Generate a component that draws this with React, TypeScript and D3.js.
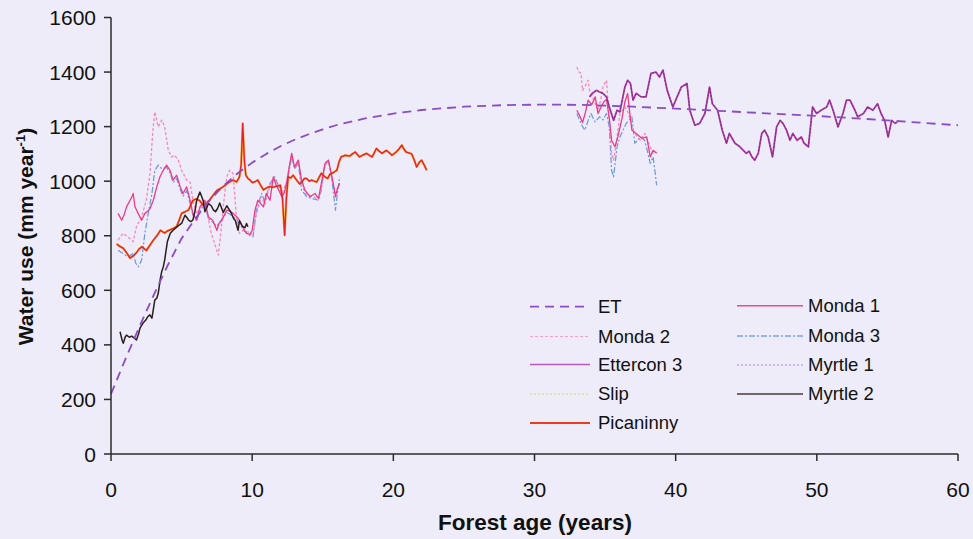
import React from "react";
import * as d3 from "d3";

type Pt = [number, number];

// Axis ticks
const xTicks = [0, 10, 20, 30, 40, 50, 60];
const yTicks = [0, 200, 400, 600, 800, 1000, 1200, 1400, 1600];

// Modelled ET curve (forest age, mm/year)
const etModel: Pt[] = [
  [0, 220], [1, 345], [2, 465], [3, 580], [4, 690], [5, 790], [6, 865], [7, 930],
  [8, 985], [9, 1030], [10, 1068], [11, 1100], [12, 1128], [13, 1152], [14, 1172],
  [15, 1190], [16, 1206], [18, 1230], [20, 1248], [22, 1261], [25, 1273], [28, 1279],
  [31, 1281], [34, 1279], [37, 1273], [40, 1266], [43, 1258], [46, 1250], [49, 1242],
  [52, 1233], [55, 1223], [58, 1212], [60, 1205],
];

const picaninny: Pt[] = [
  [0.4, 770], [0.6, 762], [0.85, 755], [1.1, 738], [1.35, 718], [1.6, 728], [1.8, 738],
  [2.0, 752], [2.2, 760], [2.5, 746], [2.75, 765], [3.0, 784], [3.25, 800], [3.5, 820],
  [3.8, 810], [4.0, 818], [4.2, 822], [4.45, 828], [4.65, 834], [4.85, 860], [5.0, 882],
  [5.25, 888], [5.5, 895], [5.8, 930], [6.05, 935], [6.3, 928], [6.5, 912], [6.65, 905],
  [6.85, 925], [7.0, 932], [7.25, 950], [7.5, 966], [7.7, 972], [7.9, 978], [8.15, 988],
  [8.4, 997], [8.65, 1004], [8.9, 997], [9.1, 1016], [9.22, 1060], [9.33, 1212],
  [9.45, 1075], [9.55, 1022], [9.7, 1010], [9.85, 1004], [10.0, 995], [10.2, 998],
  [10.4, 1004], [10.6, 985], [10.8, 968], [11.0, 975], [11.2, 980], [11.5, 978],
  [11.75, 982], [12.0, 985], [12.15, 935], [12.3, 802], [12.42, 935], [12.55, 1016],
  [12.75, 1012], [12.9, 1022], [13.15, 1004], [13.35, 990], [13.5, 995], [13.7, 1010],
  [13.86, 1010], [14.05, 1000], [14.2, 1004], [14.4, 1000], [14.57, 997], [14.75, 1015],
  [14.9, 1029], [15.15, 1016], [15.35, 1010], [15.5, 1025], [15.7, 1030], [16.0, 1040],
  [16.15, 1070], [16.3, 1089], [16.6, 1095], [16.9, 1092], [17.1, 1100], [17.3, 1107],
  [17.6, 1089], [17.85, 1096], [18.1, 1102], [18.3, 1095], [18.5, 1089], [18.8, 1120],
  [19.0, 1110], [19.2, 1102], [19.5, 1113], [19.7, 1105], [19.9, 1095], [20.2, 1107],
  [20.4, 1118], [20.6, 1132], [20.75, 1118], [20.9, 1107], [21.1, 1104], [21.3, 1100],
  [21.5, 1075], [21.65, 1052], [21.85, 1070], [22.0, 1077], [22.2, 1058], [22.36, 1040],
];

const myrtle2: Pt[] = [
  [0.64, 448], [0.8, 415], [0.87, 406], [1.0, 428], [1.1, 436], [1.3, 428], [1.47, 432],
  [1.65, 425], [1.8, 418], [1.95, 440], [2.05, 461], [2.27, 480], [2.45, 490], [2.6, 503],
  [2.75, 510], [2.9, 498], [3.0, 530], [3.1, 564], [3.25, 572], [3.35, 590], [3.5, 645],
  [3.6, 670], [3.7, 685], [3.8, 711], [4.0, 780], [4.2, 809], [4.4, 820], [4.65, 831],
  [4.8, 838], [5.0, 845], [5.24, 875], [5.4, 865], [5.5, 857], [5.65, 852], [5.8, 857],
  [5.95, 890], [6.07, 930], [6.3, 960], [6.45, 940], [6.55, 925], [6.65, 888], [6.8, 905],
  [6.9, 918], [7.1, 910], [7.25, 895], [7.4, 888], [7.55, 900], [7.7, 920], [7.95, 885],
  [8.2, 910], [8.4, 894], [8.55, 880], [8.7, 862], [8.8, 857], [9.0, 820], [9.1, 855],
  [9.25, 840], [9.35, 833], [9.5, 830], [9.6, 845], [9.7, 833],
];

const monda1Early: Pt[] = [
  [0.5, 882], [0.76, 857], [0.95, 880], [1.1, 906], [1.35, 930], [1.5, 945], [1.57, 955],
  [1.7, 906], [1.92, 882], [2.17, 857], [2.4, 882], [2.6, 890], [2.76, 900], [3.0, 930],
  [3.24, 979], [3.47, 1016], [3.7, 1040], [3.94, 1059], [4.18, 1040], [4.4, 1004],
  [4.65, 1022], [4.9, 979], [5.1, 955], [5.36, 979], [5.6, 930], [5.8, 882], [6.07, 857],
  [6.3, 906], [6.65, 930], [6.9, 869], [7.2, 857], [7.5, 820], [7.65, 845], [7.85, 857],
  [8.2, 894], [8.45, 890], [8.65, 882], [8.9, 870], [9.1, 857], [9.35, 830], [9.6, 809],
  [9.85, 805], [10.0, 820], [10.2, 894], [10.4, 930], [10.6, 918], [10.8, 906], [11.0, 955],
  [11.26, 930], [11.5, 1016], [11.7, 985], [11.9, 965], [12.1, 943], [12.3, 960],
  [12.5, 1010], [12.65, 1060], [12.8, 1102], [13.0, 1052], [13.27, 1077], [13.5, 1004],
  [13.74, 967], [14.1, 943], [14.45, 955], [14.7, 937], [14.9, 992], [15.16, 1065],
  [15.4, 1077], [15.6, 1029], [15.75, 990], [15.9, 943], [16.05, 975], [16.2, 992],
];

const monda1Late: Pt[] = [
  [33.0, 1260], [33.2, 1240], [33.4, 1215], [33.6, 1250], [33.8, 1297], [34.05, 1280],
  [34.3, 1309], [34.5, 1248], [34.7, 1270], [34.9, 1290], [35.1, 1300], [35.3, 1230],
  [35.46, 1150], [35.7, 1126], [35.9, 1162], [36.2, 1230], [36.4, 1290], [36.6, 1322],
  [36.75, 1250], [36.9, 1187], [37.2, 1175], [37.6, 1157], [37.95, 1162], [38.2, 1089],
  [38.4, 1113], [38.65, 1102],
];

const monda2Early: Pt[] = [
  [0.5, 784], [0.85, 809], [1.2, 796], [1.57, 778], [1.8, 833], [2.17, 869], [2.5, 930],
  [2.76, 1028], [2.95, 1175], [3.1, 1254], [3.35, 1199], [3.6, 1224], [3.8, 1199],
  [4.06, 1113], [4.3, 1089], [4.5, 1095], [4.77, 1077], [5.0, 1040], [5.36, 1004],
  [5.6, 997], [5.8, 930], [6.07, 880], [6.3, 900], [6.65, 920], [6.9, 860], [7.1, 809],
  [7.35, 770], [7.6, 729], [7.8, 820], [7.95, 906], [8.2, 1016], [8.4, 1040], [8.65, 1028],
  [8.9, 857], [9.1, 809], [9.35, 820], [9.6, 815], [9.85, 812], [10.06, 805], [10.3, 880],
  [10.67, 945], [10.9, 915], [11.26, 985], [11.6, 1008], [11.8, 985], [12.1, 955],
  [12.4, 990], [12.8, 1095], [13.0, 1050], [13.27, 1070], [13.5, 985], [13.86, 950],
  [14.2, 945], [14.7, 935], [14.9, 975], [15.16, 1060], [15.4, 1070], [15.6, 1020],
  [15.9, 955], [16.2, 990],
];

const monda2Late: Pt[] = [
  [33.0, 1419], [33.15, 1400], [33.3, 1395], [33.4, 1333], [33.6, 1350], [33.8, 1370],
  [33.9, 1333], [34.2, 1297], [34.5, 1260], [34.7, 1300], [34.85, 1345], [35.1, 1370],
  [35.3, 1223], [35.46, 1102], [35.6, 1077], [35.85, 1162], [36.05, 1248], [36.4, 1272],
  [36.65, 1250], [36.9, 1199], [37.1, 1175], [37.5, 1150], [37.8, 1175], [38.0, 1150],
  [38.2, 1126], [38.4, 1102], [38.65, 1107],
];

const monda3Early: Pt[] = [
  [0.5, 747], [0.85, 735], [1.2, 723], [1.57, 735], [1.75, 700], [1.93, 686], [2.17, 711],
  [2.4, 809], [2.64, 882], [2.9, 955], [3.1, 1040], [3.35, 1059], [3.6, 1045], [3.94, 1050],
  [4.18, 1030], [4.4, 995], [4.65, 1010], [4.9, 970], [5.1, 945], [5.36, 965], [5.6, 920],
  [5.8, 875], [6.07, 855], [6.3, 890], [6.65, 915], [6.9, 862], [7.2, 850], [7.5, 835],
  [7.85, 860], [8.2, 885], [8.45, 878], [8.65, 870], [8.9, 860], [9.1, 845], [9.35, 825],
  [9.6, 809], [9.85, 800], [10.06, 796], [10.3, 894], [10.67, 955], [10.9, 924],
  [11.26, 992], [11.6, 1016], [11.8, 992], [12.0, 970], [12.2, 950], [12.5, 1000],
  [12.8, 1095], [13.0, 1045], [13.27, 1065], [13.5, 967], [13.86, 943], [14.2, 937],
  [14.7, 930], [14.9, 967], [15.16, 1065], [15.4, 1077], [15.6, 1029], [15.75, 960],
  [15.9, 894], [16.05, 960], [16.2, 1016],
];

const monda3Late: Pt[] = [
  [33.0, 1248], [33.2, 1223], [33.4, 1200], [33.57, 1187], [33.8, 1223], [34.0, 1248],
  [34.3, 1217], [34.6, 1236], [34.85, 1225], [35.1, 1248], [35.3, 1199], [35.46, 1040],
  [35.6, 1016], [35.85, 1126], [36.05, 1162], [36.3, 1190], [36.5, 1212], [36.9, 1236],
  [37.1, 1139], [37.5, 1162], [37.8, 1150], [38.0, 1110], [38.2, 1065], [38.4, 1089],
  [38.55, 1030], [38.65, 985],
];

const ettercon3: Pt[] = [
  [33.9, 1309], [34.1, 1322], [34.4, 1333], [34.6, 1327], [34.85, 1322], [35.1, 1309],
  [35.3, 1272], [35.6, 1223], [35.85, 1260], [36.05, 1254], [36.4, 1345], [36.6, 1370],
  [36.8, 1358], [36.98, 1297], [37.2, 1322], [37.55, 1309], [37.9, 1309], [38.25, 1395],
  [38.6, 1400], [38.85, 1382], [39.1, 1407], [39.4, 1333], [39.8, 1272], [40.1, 1309],
  [40.4, 1345], [40.8, 1358], [41.0, 1260], [41.36, 1205], [41.7, 1212], [42.07, 1248],
  [42.4, 1345], [42.6, 1284], [42.97, 1260], [43.3, 1187], [43.6, 1139], [43.8, 1175],
  [44.2, 1139], [44.55, 1126], [45.0, 1102], [45.2, 1110], [45.4, 1089], [45.6, 1077],
  [45.85, 1102], [46.1, 1175], [46.3, 1187], [46.55, 1162], [46.86, 1089], [47.15, 1199],
  [47.4, 1223], [47.6, 1212], [47.85, 1187], [48.1, 1150], [48.3, 1175], [48.6, 1150],
  [48.9, 1162], [49.1, 1139], [49.4, 1126], [49.6, 1223], [49.7, 1272], [49.98, 1248],
  [50.3, 1260], [50.7, 1272], [50.9, 1297], [51.15, 1260], [51.5, 1199], [51.85, 1248],
  [52.1, 1297], [52.35, 1297], [52.7, 1260], [52.9, 1236], [53.3, 1248], [53.6, 1272],
  [53.97, 1260], [54.3, 1284], [54.55, 1248], [54.8, 1223], [55.05, 1162], [55.3, 1223],
  [55.55, 1212], [55.7, 1217],
];

// Myrtle 1 and Slip run on top of / beneath the Ettercon 3 and Picaninny records
const myrtle1: Pt[] = ettercon3;
const slip: Pt[] = picaninny;

const legendLeft = ["ET", "Monda 2", "Ettercon 3", "Slip", "Picaninny"];
const legendRight = ["Monda 1", "Monda 3", "Myrtle 1", "Myrtle 2"];

type Style = { color: string; width: number; dash?: string };
const styles: Record<string, Style> = {
  ET: { color: "#8c4cc4", width: 1.8, dash: "9,6" },
  "Monda 1": { color: "#ea3c88", width: 1.3 },
  "Monda 2": { color: "#f38ab8", width: 1.3, dash: "3,2" },
  "Monda 3": { color: "#6a96e2", width: 1.2, dash: "6,2,2,2" },
  "Ettercon 3": { color: "#b23ca8", width: 1.8 },
  "Myrtle 1": { color: "#5a2a60", width: 0.7, dash: "2,1.5" },
  Slip: { color: "#f5b448", width: 2.3 },
  Picaninny: { color: "#e82028", width: 1.4 },
  "Myrtle 2": { color: "#2a1e1e", width: 1.5 },
};
const legendStyles: Record<string, Style> = {
  ...styles,
  "Monda 1": { color: "#ec4b8e", width: 1.5 },
  "Monda 2": { color: "#f5a0c6", width: 1.2, dash: "3,2" },
  "Monda 3": { color: "#7aa2e6", width: 1.3, dash: "6,2,2,2" },
  "Ettercon 3": { color: "#b85ab8", width: 1.5 },
  "Myrtle 1": { color: "#a78fd8", width: 1, dash: "2,2" },
  Slip: { color: "#d4d860", width: 1.2, dash: "2,2" },
  Picaninny: { color: "#ee3a1e", width: 1.8 },
  "Myrtle 2": { color: "#4a3a3a", width: 1.5 },
};

const W = 973;
const H = 539;
const x = d3.scaleLinear().domain([0, 60]).range([111, 958]);
const y = d3.scaleLinear().domain([0, 1600]).range([454, 17.5]);
const line = d3
  .line<Pt>()
  .x((d) => x(d[0]))
  .y((d) => y(d[1]));

const font = "'Liberation Sans', Arial, Helvetica, sans-serif";

function Series({ data, s }: { data: Pt[]; s: Style }) {
  return (
    <path
      d={line(data) ?? ""}
      fill="none"
      stroke={s.color}
      strokeWidth={s.width}
      strokeDasharray={s.dash}
      strokeLinejoin="round"
      strokeLinecap="butt"
    />
  );
}

function LegendRow({ name, lx, ty, y0 }: { name: string; lx: [number, number]; ty: number; y0: number }) {
  const s = legendStyles[name];
  return (
    <g>
      <line x1={lx[0]} x2={lx[1]} y1={y0} y2={y0} stroke={s.color} strokeWidth={s.width} strokeDasharray={s.dash} />
      <text x={ty} y={y0} dy="0.35em" fontSize={18.5} fontFamily={font} fill="#111">
        {name}
      </text>
    </g>
  );
}

export default function App() {
  const leftRows = [306.7, 336.5, 364.5, 394, 423];
  const rightRows = [305.7, 336, 365, 394];
  return (
    <svg width={W} height={H} style={{ position: "absolute", left: 0, top: 0 }}>
      <rect x={0} y={0} width={W} height={H} fill="#edecf8" />

      {/* data */}
      <g>
        <Series data={slip} s={styles.Slip} />
        <Series data={monda3Early} s={styles["Monda 3"]} />
        <Series data={monda2Early} s={styles["Monda 2"]} />
        <Series data={monda1Early} s={styles["Monda 1"]} />
        <Series data={monda3Late} s={styles["Monda 3"]} />
        <Series data={monda2Late} s={styles["Monda 2"]} />
        <Series data={monda1Late} s={styles["Monda 1"]} />
        <Series data={ettercon3} s={styles["Ettercon 3"]} />
        <Series data={myrtle1} s={styles["Myrtle 1"]} />
        <Series data={picaninny} s={styles.Picaninny} />
        <Series data={myrtle2} s={styles["Myrtle 2"]} />
        <Series data={etModel} s={styles.ET} />
      </g>

      {/* axes */}
      <g stroke="#2b2b2b" strokeWidth={1.5} fill="none">
        <line x1={x(0)} x2={x(0)} y1={y(1600)} y2={y(0)} />
        <line x1={x(0)} x2={x(60)} y1={y(0)} y2={y(0)} />
        {yTicks.map((t) => (
          <line key={"yt" + t} x1={x(0) - 7} x2={x(0)} y1={y(t)} y2={y(t)} />
        ))}
        {xTicks.map((t) => (
          <line key={"xt" + t} x1={x(t)} x2={x(t)} y1={y(0)} y2={y(0) + 7} />
        ))}
      </g>
      <g fontFamily={font} fontSize={21} fill="#111">
        {yTicks.map((t) => (
          <text key={"yl" + t} x={96} y={y(t)} dy="0.36em" textAnchor="end">
            {t}
          </text>
        ))}
        {xTicks.map((t) => (
          <text key={"xl" + t} x={x(t)} y={497} textAnchor="middle">
            {t}
          </text>
        ))}
      </g>
      <text x={535} y={530} textAnchor="middle" fontFamily={font} fontWeight="bold" fontSize={22.5} fill="#111">
        Forest age (years)
      </text>
      <text
        transform="translate(33,236.5) rotate(-90)"
        textAnchor="middle"
        fontFamily={font}
        fontWeight="bold"
        fontSize={21}
        fill="#111"
      >
        Water use (mm year<tspan fontSize={13} dy={-8}>-1</tspan>
        <tspan dy={8}>)</tspan>
      </text>

      {/* legend */}
      {legendLeft.map((n, i) => (
        <LegendRow key={n} name={n} lx={[530, 590]} ty={598} y0={leftRows[i]} />
      ))}
      {legendRight.map((n, i) => (
        <LegendRow key={n} name={n} lx={[737, 803]} ty={808} y0={rightRows[i]} />
      ))}
    </svg>
  );
}
